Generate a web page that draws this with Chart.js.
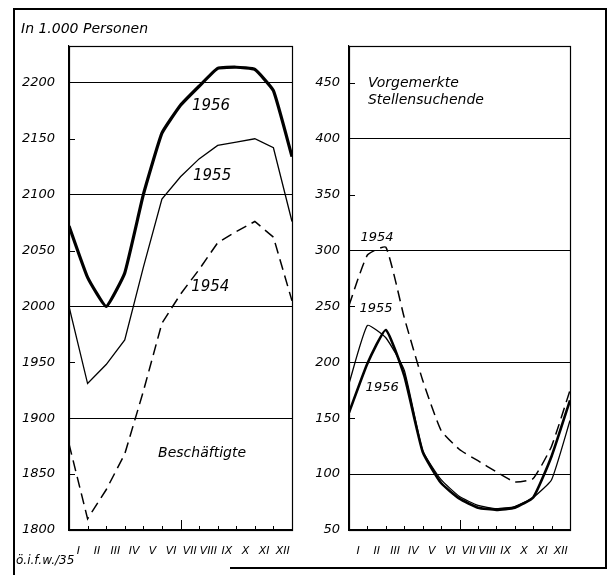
<!DOCTYPE html>
<html><head><meta charset="utf-8">
<script src="https://cdn.jsdelivr.net/npm/chart.js@4.4.1/dist/chart.umd.min.js"></script>
<style>
html,body{margin:0;padding:0;background:#fff;}
#wrap{position:relative;width:613px;height:575px;overflow:hidden;background:#fff;}
canvas{position:absolute;top:0;}
.ln{position:absolute;background:#000;}
.txt{position:absolute;font-family:"DejaVu Sans",sans-serif;font-style:italic;color:#000;white-space:nowrap;line-height:1;}
</style></head><body>
<div id="wrap">
<canvas id="c1" width="300" height="575" style="left:0"></canvas>
<canvas id="c2" width="313" height="575" style="left:300px"></canvas>
<div class="ln" style="left:13px;top:8px;width:2px;height:567px"></div>
<div class="ln" style="left:13px;top:8px;width:594px;height:2px"></div>
<div class="ln" style="left:605px;top:8px;width:2px;height:561px"></div>
<div class="ln" style="left:230px;top:567px;width:377px;height:2px"></div>
<div class="txt" style="left:21px;top:21px;font-size:14px">In 1.000 Personen</div>
<div class="txt" style="left:16px;top:554px;font-size:12px">ö.i.f.w./35</div>
</div>
<script>
// Month labels (Roman numerals) and month-boundary positions of the data points
const monthLabels = ['I','II','III','IV','V','VI','VII','VIII','IX','X','XI','XII'];
const monthPoints = [0,1,2,3,4,5,6,7,8,9,10,11,12];

// Beschäftigte (in 1.000 Personen)
const emp1954 = [1877, 1810, 1836, 1868, 1924, 1985, 2011, 2033, 2057, 2067, 2076, 2062, 2005];
const emp1955 = [2000, 1931, 1948, 1970, 2035, 2096, 2116, 2132, 2144, 2147, 2150, 2142, 2076];
const emp1956 = [2072, 2026, 2000, 2030, 2100, 2155, 2180, 2197, 2213, 2214, 2212, 2193, 2134];

// Vorgemerkte Stellensuchende (in 1.000 Personen)
const unemp1954 = [251, 296, 303, 240, 184, 139, 122, 112, 102, 93, 96, 125, 175];
const unemp1955 = [181, 233, 222, 193, 121, 95, 80, 72, 69, 71, 79, 95, 148];
const unemp1956 = [155, 199, 229, 188, 120, 92, 78, 70, 68, 70, 79, 116, 166];

// Axis tick labels
const yTicksLeft = [1800, 1850, 1900, 1950, 2000, 2050, 2100, 2150, 2200];
const yTicksRight = [50, 100, 150, 200, 250, 300, 350, 400, 450];

const FONT = '"DejaVu Sans", sans-serif';

const decor = {
  id: 'decor',
  afterDraw(chart, args, opts) {
    const {ctx, chartArea: a, scales: {x, y}} = chart;
    ctx.save();
    ctx.strokeStyle = '#000';
    ctx.lineWidth = 1.2;
    ctx.strokeRect(a.left + 0.5, a.top + 0.5, a.right - a.left, a.bottom - a.top);
    ctx.lineWidth = 1;
    const line = (x1, y1, x2, y2) => { ctx.beginPath(); ctx.moveTo(x1, y1); ctx.lineTo(x2, y2); ctx.stroke(); };
    for (let i = 1; i < monthLabels.length; i++) {
      const px = Math.round(x.getPixelForValue(i)) + 0.5;
      const len = i === 6 ? 10 : 4;
      line(px, a.bottom, px, a.bottom - len);
    }
    opts.yTicks.filter(v => v % 100 !== 0).forEach(v => {
      const py = Math.round(y.getPixelForValue(v)) + 0.5;
      line(a.left, py, a.left + 6, py);
    });
    ctx.fillStyle = '#000';
    opts.notes.forEach(n => {
      ctx.font = 'italic ' + n.size + 'px ' + FONT;
      ctx.textAlign = n.align || 'center';
      ctx.textBaseline = 'middle';
      ctx.fillText(n.text, x.getPixelForValue(n.x), y.getPixelForValue(n.y));
    });
    ctx.restore();
  }
};

function pts(vals) { return monthPoints.map((m, i) => ({x: m, y: vals[i]})); }

function makeChart(id, cfg) {
  return new Chart(document.getElementById(id), {
    type: 'line',
    data: { datasets: cfg.datasets },
    options: {
      responsive: false,
      animation: false,
      layout: { padding: { left: 0, right: cfg.padRight, top: 46, bottom: 15 } },
      plugins: { legend: { display: false }, tooltip: { enabled: false }, decor: { yTicks: cfg.yTicks, notes: cfg.notes } },
      elements: { point: { radius: 0 } },
      scales: {
        x: {
          type: 'linear', min: 0, max: 12,
          afterBuildTicks: s => { s.ticks = monthLabels.map((l, i) => ({ value: i + 0.5 })); },
          afterFit: s => { s.height = 30; },
          ticks: { autoSkip: false, maxRotation: 0, padding: 7, color: '#000',
                   font: { family: FONT, size: 11, style: 'italic' },
                   callback: (v, idx) => monthLabels[idx] },
          grid: { display: false },
          border: { display: true, color: '#000', width: 1.2 }
        },
        y: {
          type: 'linear', min: cfg.yMin, max: cfg.yMax,
          afterBuildTicks: s => { s.ticks = cfg.yTicks.map(v => ({ value: v })); },
          afterFit: s => { s.width = cfg.yWidth; },
          ticks: { padding: cfg.yPad, color: '#000', font: { family: FONT, size: 13, style: 'italic' },
                   callback: v => String(v) },
          grid: { drawTicks: false, lineWidth: 1,
                  color: c => (c.tick && c.tick.value % 100 === 0) ? '#000' : 'rgba(0,0,0,0)' },
          border: { display: true, color: '#000', width: 1.2 }
        }
      }
    },
    plugins: [decor]
  });
}

makeChart('c1', {
  yMin: 1800, yMax: 2233, yTicks: yTicksLeft, yWidth: 69, yPad: 14, padRight: 8,
  datasets: [
    { label: '1956', data: pts(emp1956), borderColor: '#000', borderWidth: 3.2, tension: 0.12, fill: false },
    { label: '1955', data: pts(emp1955), borderColor: '#000', borderWidth: 1.3, tension: 0, fill: false },
    { label: '1954', data: pts(emp1954), borderColor: '#000', borderWidth: 1.5, borderDash: [11, 6], tension: 0, fill: false }
  ],
  notes: [
    { text: '1956', x: 7.64, y: 2179, size: 15 },
    { text: '1955', x: 7.7, y: 2117, size: 15 },
    { text: '1954', x: 7.6, y: 2017, size: 15 },
    { text: 'Beschäftigte', x: 7.16, y: 1869, size: 14 }
  ]
});

makeChart('c2', {
  yMin: 50, yMax: 483, yTicks: yTicksRight, yWidth: 49, yPad: 9, padRight: 43,
  datasets: [
    { label: '1956', data: pts(unemp1956), borderColor: '#000', borderWidth: 2.6, tension: 0.15, fill: false },
    { label: '1955', data: pts(unemp1955), borderColor: '#000', borderWidth: 1.3, tension: 0.15, fill: false },
    { label: '1954', data: pts(unemp1954), borderColor: '#000', borderWidth: 1.5, borderDash: [11, 6], tension: 0.15, fill: false }
  ],
  notes: [
    { text: 'Vorgemerkte', x: 1.03, y: 450, size: 14, align: 'left' },
    { text: 'Stellensuchende', x: 1.03, y: 434, size: 14, align: 'left' },
    { text: '1954', x: 1.52, y: 312, size: 13 },
    { text: '1955', x: 1.47, y: 248, size: 13 },
    { text: '1956', x: 1.8, y: 177, size: 13 }
  ]
});
</script>
</body></html>
